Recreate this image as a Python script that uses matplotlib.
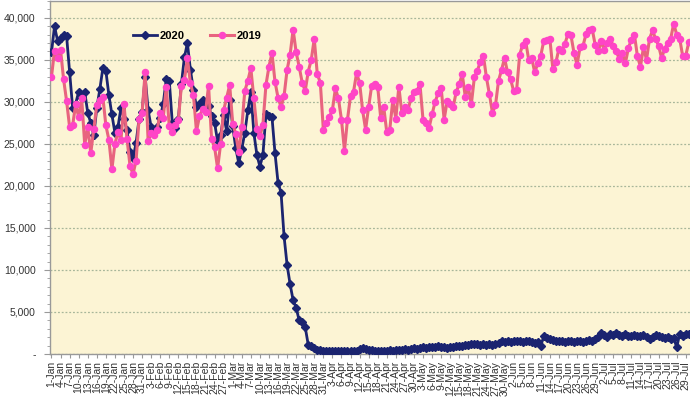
import numpy as np
import pandas as pd
import matplotlib
matplotlib.use('Agg')
import matplotlib.pyplot as plt
from matplotlib.ticker import FuncFormatter, MultipleLocator

plt.rcParams['font.family'] = ['Liberation Sans', 'DejaVu Sans']

# daily counts, 1-Jan .. 30-Jul
v2020 = [
    # Jan
    35900, 39000, 37300, 37600, 37900, 37800, 33600, 29300, 29800, 31200,
    30400, 31200, 28700, 27500, 26000, 29300, 31500, 34000, 33700, 30800,
    28500, 26300, 27000, 29300, 28000, 26600, 24000, 23300, 25100, 28000, 28800,
    # Feb
    33000, 29000, 27000, 26700, 27000, 28100, 29800, 32700, 32500, 27500,
    26900, 28000, 32100, 35300, 37000, 33800, 31400, 29400, 29700, 30200,
    29000, 29500, 28300, 27500, 25300, 26000, 28400, 26500, 30200,
    # Mar
    27100, 24500, 22700, 24400, 26300, 29000, 31200, 26300, 23700, 22300,
    23700, 28500, 28300, 28200, 23900, 20400, 19200, 14000, 10600, 8300,
    6400, 5500, 4000, 3800, 3200, 1100, 1000, 700, 500, 450, 400,
    # Apr
    300, 350, 300, 400, 350, 300, 350, 400, 300, 350,
    400, 600, 750, 600, 500, 450, 400, 350, 400, 350,
    400, 450, 400, 500, 450, 500, 550, 500, 600, 700,
    # May
    650, 700, 800, 750, 800, 850, 800, 900, 850, 800,
    750, 800, 850, 900, 950, 1000, 1050, 1100, 1200, 1150,
    1200, 1100, 1200, 1100, 1150, 1050, 1200, 1300, 1500, 1450, 1500,
    # Jun
    1400, 1500, 1600, 1500, 1400, 1550, 1600, 1450, 1300, 1400,
    1000, 2100, 1900, 1800, 1700, 1600, 1500, 1600, 1400, 1550,
    1500, 1450, 1600, 1500, 1400, 1600, 1700, 1600, 1800, 2000,
    # Jul
    2500, 2300, 2000, 2400, 2300, 2500, 2300, 2200, 2400, 2200,
    2100, 2300, 2200, 2100, 2300, 2000, 1800, 2000, 2300, 2100,
    2000, 1900, 2000, 1800, 1900, 800, 2400, 2200, 2400, 2400,
]

v2019 = [
    33000, 36100, 35200, 36200, 32700, 30100, 27000, 27200, 29700, 28200,
    30400, 24900, 27000, 23900, 26800, 29600, 30200, 30600, 27200, 25500,
    22000, 25000, 26400, 25500, 29700, 25600, 22400, 21400, 23000, 28000,
    28700, 33500, 25300, 26300, 26000, 26700, 28700, 28100, 31800, 27100,
    26400, 27200, 27800, 31900, 32600, 35200, 32200, 30800, 26500, 28300,
    29100, 28800, 31900, 25600, 24600, 22100, 25000, 29000, 30500, 32000,
    27400, 26200, 24000, 27000, 31300, 32500, 34000, 30400, 26800, 25900,
    27300, 32000, 34200, 35800, 32400, 30500, 29400, 30700, 33800, 35600,
    38600, 35900, 34200, 32300, 31300, 33600, 35000, 37500, 33300, 32300,
    26700, 27500, 28200, 29000, 31600, 30400, 27900, 24200, 27900, 30700,
    31200, 33400, 32300, 29000, 26700, 29400, 31900, 32100, 31800, 28100,
    29400, 26400, 26700, 30200, 28000, 31800, 28700, 29400, 29000, 30400,
    31200, 31300, 32100, 27900, 27500, 26900, 28500, 30000, 31000, 31700,
    27900, 30100, 29700, 29400, 31200, 32100, 33300, 30600, 31800, 29700,
    32900, 33700, 34800, 35500, 32900, 30900, 28700, 29600, 32500, 33800,
    35200, 33500, 32700, 31300, 31400, 35600, 36800, 37200, 35000, 35200,
    33500, 34600, 35500, 37300, 37400, 37500, 33900, 34700, 36300, 36000,
    36900, 38100, 37900, 35800, 34400, 36500, 36700, 38100, 38500, 38700,
    36800, 36000, 37200, 36200, 37000, 37500, 36600, 36000, 35100, 35800,
    34600, 36400, 37400, 38000, 35400, 34200, 36500, 35000, 37500, 38500,
    37500, 36700, 35200, 36300, 37000, 37500, 39300, 38000, 37500, 35400,
    35500, 37100,
]

dates = pd.date_range('2020-01-01', periods=len(v2020), freq='D')
day_labels = [f"{d.day}-{d.strftime('%b')}" for d in dates]
x = np.arange(len(dates))

fig = plt.figure(figsize=(6.9, 4.01), dpi=100)
ax = fig.add_axes([49.5 / 690, 47 / 401, 640.5 / 690, 353 / 401])
ax.set_facecolor('#FCF4D4')

ax.plot(x, v2020, color='#1B2470', lw=2.0, marker='D', ms=3.8,
        mfc='#1B2470', mec='#1B2470', label='2020', zorder=3)
ax.plot(x, v2019, color='#E8647F', lw=2.2, marker='o', ms=4.4,
        mfc='#FF45C6', mec='#FF45C6', label='2019', zorder=4)

ax.set_xlim(-0.66, 211.4)
ax.set_ylim(0, 42000)

ax.yaxis.set_major_locator(MultipleLocator(5000))
ax.yaxis.set_minor_locator(MultipleLocator(1000))
ax.yaxis.set_major_formatter(FuncFormatter(lambda v, p: '-' if v == 0 else f'{v:,.0f}'))
ax.grid(axis='y', which='major', color='#A8B69A', ls=(0, (1.5, 1.5)), lw=0.9, zorder=1)

ax.set_xticks(x[::3])
ax.set_xticklabels(day_labels[::3], rotation=90, fontsize=7.5, color='#333333')
ax.tick_params(axis='x', length=3, color='#999999', pad=2)
ax.tick_params(axis='y', which='major', length=4, color='#999999', labelsize=7.5,
               labelcolor='#333333', pad=6)
ax.tick_params(axis='y', which='minor', length=2, color='#999999')

for s in ['left', 'bottom', 'top']:
    ax.spines[s].set_color('#999999')
    ax.spines[s].set_linewidth(1.0)
ax.spines['right'].set_visible(False)

leg = ax.legend(loc='center left', bbox_to_anchor=(0.13, 0.90), ncol=2, frameon=False,
                handlelength=2.2, handletextpad=0.2, columnspacing=2.3,
                prop={'weight': 'bold', 'size': 8}, borderpad=0, borderaxespad=0)

fig.savefig('out.png', dpi=100)
